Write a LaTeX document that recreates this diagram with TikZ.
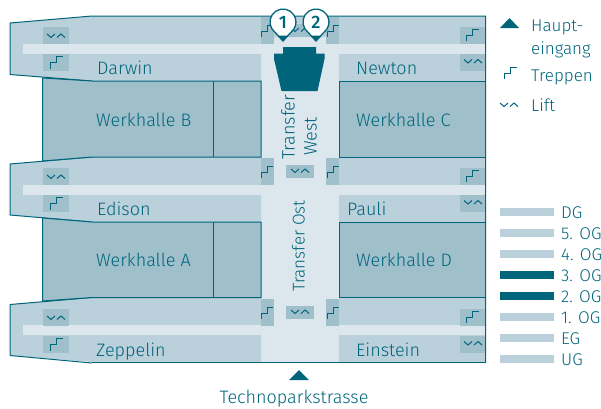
\documentclass[tikz,border=0pt]{standalone}
\usepackage{fontspec}
\setmainfont{Fira Sans Light}[BoldFont={Fira Sans Medium}]
\definecolor{plandark}{HTML}{00657B}
\definecolor{planwing}{HTML}{BAD0DB}
\definecolor{planhall}{HTML}{9FBFCB}
\definecolor{planway}{HTML}{DCE6ED}
\tikzset{
  lbl/.style={text=plandark, inner sep=0pt, font=\fontsize{17}{20}\selectfont},
  biglbl/.style={text=plandark, inner sep=0pt, font=\fontsize{18}{20}\selectfont},
  icon/.style={draw=plandark, line width=1pt},
  wing/.style={fill=planwing},
  hall/.style={fill=planhall, draw=plandark, line width=1pt},
  edge/.style={draw=plandark, line width=1pt},
  box/.style={fill=planhall},
  floorbar/.style={fill=planwing},
  floorsel/.style={fill=plandark}
}
% icons, given by their middle point
\newcommand{\stairsicon}[2]{\draw[icon, shift={(#1,#2)}] (-6,6) -- (-6,0) -- (0,0) -- (0,-6) -- (6,-6);}
\newcommand{\lifticon}[2]{\draw[icon, shift={(#1,#2)}] (-9,-2) -- (-5,1.5) -- (-1,-2) (1,1.5) -- (5,-2) -- (9,1.5);}
\begin{document}
\begin{tikzpicture}[x=1pt,y=-1pt]
  \useasboundingbox (0,0) rectangle (601,408);
  % wings
  \fill[planway] (261,36) rectangle (339,362);
  \fill[wing] (10,23) -- (92,16) -- (485,16) -- (485,37) -- (339,37) -- (261,37) -- (261,81) -- (92,81) -- (10,74.5) -- cycle;
  \fill[wing] (339,36) rectangle (485,81);
  \fill[wing] (10,164) -- (92,157) -- (261,157) -- (261,222) -- (92,222) -- (10,215) -- cycle;
  \fill[wing] (339,157) rectangle (485,222);
  \fill[wing] (10,304.5) -- (92,297.5) -- (261,297.5) -- (261,362) -- (92,362) -- (10,355.5) -- cycle;
  \fill[wing] (339,297.5) rectangle (485,362);
  % corridors
  \fill[planway] (23,44) rectangle (485,54);
  \fill[planway] (23,185) rectangle (485,195);
  \fill[planway] (23,325) rectangle (485,335);
  % outlines
  \draw[edge] (92,81) -- (10,74.5) -- (10,23) -- (92,16) -- (485.5,16) -- (485.5,363);
  \draw[edge] (92,222) -- (10,215) -- (10,164) -- (92,157);
  \draw[edge] (92,363) -- (10,355.5) -- (10,304.5) -- (92,297.5);
  \draw[edge, line width=1.5pt] (92,362.7) -- (485.5,362.7);
  % halls
  \draw[hall] (42.5,78) -- (92,81) -- (261,81) -- (261,157) -- (92,157) -- (42.5,161) -- cycle;
  \draw[hall] (42.5,218) -- (92,222) -- (261,222) -- (261,297.5) -- (92,297.5) -- (42.5,301) -- cycle;
  \draw[hall] (339,81) rectangle (485.5,157);
  \draw[hall] (339,222) rectangle (485.5,297.5);
  \draw[edge] (213,81) -- (213,157);
  \draw[edge] (213,222) -- (213,297.5);
  % boxes and their icons
  \foreach \y in {0,141,282}{
    \fill[box] (43,27+\y) rectangle (69,44+\y);
    \fill[box] (43,54+\y) rectangle (69,71+\y);
    \fill[box] (460,27+\y) rectangle (485,44+\y);
    \fill[box] (460,54+\y) rectangle (485,71+\y);
    \fill[box] (261,16.5+\y) rectangle (274,44+\y);
    \fill[box] (326,16.5+\y) rectangle (339,44+\y);
    \fill[box] (286,24+\y) rectangle (314,37+\y);
    \lifticon{56}{36+\y}
    \stairsicon{56.5}{62.5+\y}
    \stairsicon{472.5}{35+\y}
    \lifticon{473}{61.5+\y}
    \stairsicon{267}{31+\y}
    \stairsicon{333}{31+\y}
    \lifticon{300}{30+\y}
  }
  % entrance
  \fill[plandark] (283,47) -- (316,47) -- (316,53.5) -- (324.5,53.5) -- (324.5,59) -- (317.5,91) -- (281.5,91) -- (274,59) -- (274,53.5) -- (283,53.5) -- cycle;
  % pins
  \foreach \x/\n in {283/1,316/2}{
    \draw[fill=white, draw=plandark, line width=1.3pt] (\x-11,29) arc[start angle=147.5, end angle=392.5, radius=13] -- (\x,41) -- cycle;
    \fill[plandark] (\x-6,35.5) -- (\x+6,35.5) -- (\x,41) -- cycle;
    \node[text=plandark, inner sep=0pt, font=\fontsize{18}{20}\selectfont\bfseries] (pin\n) at (\x,22) {\n};
  }
  % names
  \node[biglbl, anchor=base west] (darwin) at (97,74) {Darwin};
  \node[biglbl, anchor=base west] (newton) at (356,74) {Newton};
  \node[biglbl, anchor=base west] (halleb) at (96,126) {Werkhalle B};
  \node[biglbl, anchor=base west] (hallec) at (356,126) {Werkhalle C};
  \node[biglbl, anchor=base west] (edison) at (97,215) {Edison};
  \node[biglbl, anchor=base west] (pauli) at (347,215) {Pauli};
  \node[biglbl, anchor=base west] (hallea) at (96,266) {Werkhalle A};
  \node[biglbl, anchor=base west] (halled) at (356,266) {Werkhalle D};
  \node[biglbl, anchor=base west] (zeppelin) at (96,356) {Zeppelin};
  \node[biglbl, anchor=base west] (einstein) at (356,356) {Einstein};
  \node[biglbl, anchor=base west, rotate=90] (transfer) at (294.5,160) {Transfer};
  \node[biglbl, anchor=base west, rotate=90] (west) at (316.5,156) {West};
  \node[lbl, anchor=base west, rotate=90] (ost) at (304.5,292) {Transfer Ost};
  \node[biglbl, anchor=base] (strasse) at (294,403) {Technoparkstrasse};
  \fill[plandark] (299,370) -- (309,380) -- (289,380) -- cycle;
  % legend
  \fill[plandark] (509.5,18) -- (519,28) -- (500,28) -- cycle;
  \node[lbl, anchor=base west] (haupt) at (531,31) {Haupt-};
  \node[lbl, anchor=base west] (eingang) at (531,54) {eingang};
  \node[lbl, anchor=base west] (treppen) at (531,81) {Treppen};
  \node[lbl, anchor=base west] (lift) at (531,111) {Lift};
  \stairsicon{510.5}{73}
  \lifticon{509}{105}
  \foreach \y/\n/\s in {208/DG/floorbar,229/5. OG/floorbar,250/4. OG/floorbar,271/3. OG/floorsel,292/2. OG/floorsel,313/1. OG/floorbar,334/EG/floorbar,355/UG/floorbar}{
    \fill[\s] (500,\y) rectangle (554,\y+8);
    \node[lbl, anchor=base west] at (561,\y+10) {\n};
  }
\end{tikzpicture}
\end{document}
